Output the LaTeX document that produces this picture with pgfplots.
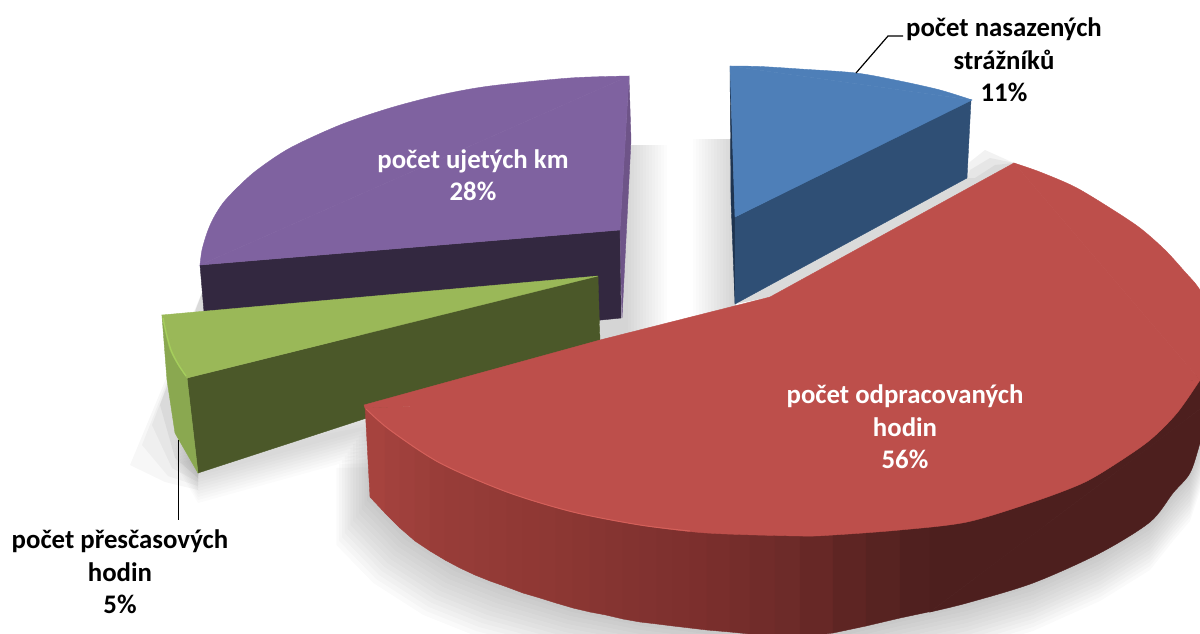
\documentclass[border=0pt]{standalone}
\usepackage{fontspec}
\setmainfont{Carlito}
\usepackage{pgfplots}
\usepackage{pgfplotstable}
\pgfplotsset{compat=1.18}
\definecolor{bluetop}{RGB}{78,127,184}
\definecolor{blueside}{RGB}{47,79,117}
\definecolor{bluerim}{RGB}{30,52,80}
\definecolor{purptop}{RGB}{127,98,160}
\definecolor{purpside}{RGB}{51,40,64}
\definecolor{purprim}{RGB}{110,84,136}
\definecolor{greentop}{RGB}{154,184,88}
\definecolor{greenside}{RGB}{75,88,41}
\definecolor{greenrim}{RGB}{138,168,80}
\definecolor{greenedge}{RGB}{165,207,92}
\definecolor{redtop}{RGB}{189,79,75}
\definecolor{rededge}{RGB}{212,96,90}
\definecolor{reddark}{RGB}{77,31,30}

% outer wall of the big slice: upper edge, then lower edge
\pgfplotstableread{
x y
365 405
385 423
400 435
415 445
430 454
445 462
460 469
475 475
490 482
507 489
523 494
540 499
556 504
573 509
590 513
606 516
623 519
640 522
657 525
673 527
690 529
707 530
730 531
750 532
775 533
800 533
833 532
866 530
900 527
933 523
370 497
385 513
400 528
415 541
430 551
445 560
460 568
475 575
490 581
507 587
523 593
540 598
556 603
573 608
590 612
606 615
623 619
640 622
657 624
673 626
690 628
707 630
730 632
750 634
775 636
800 637
833 633
866 626
900 618
933 611
}\redwall

% dx marks the points whose shadow also falls to the left
\pgfplotstableread{
x y dx
370 497 1
407 535 1
457 567 1
507 587 1
573 608 0.5
640 622 0
707 630 0
760 636 0
800 637 0
850 630 0
900 618 0
967 603 0
1033 583 0
1100 553 0
1150 522 0
1173 493 0
1190 473 0
1200 443 0
1200 400 0
370 420 1
}\redshadow

\pgfplotstableread{
x y
198 473
400 417
400 390
175 433
}\greenshadow

\newcommand\poly[2]{\addplot[draw=#1,line width=0.4pt,fill=#1] coordinates {#2} -- cycle;}
\newcommand\arcfill[2]{\addplot[smooth,draw=#1,line width=0.4pt,fill=#1] coordinates {#2} -- cycle;}

\begin{document}
\begin{tikzpicture}
\begin{axis}[
  name=ax,
  width=1200pt,height=633pt,scale only axis,
  xmin=0,xmax=1200,ymin=0,ymax=633,
  y dir=reverse,
  hide axis,
  clip=true,
  colormap={redwall}{rgb255(365)=(168,68,63) rgb255(440)=(152,61,57) rgb255(540)=(143,56,52)
    rgb255(640)=(130,50,48) rgb255(700)=(124,47,45) rgb255(800)=(107,42,40)
    rgb255(850)=(94,37,35) rgb255(933)=(77,31,30)},
  point meta min=365,point meta max=933,
]
% floor shadows
\pgfplotsinvokeforeach{628,631,634,637,640,643,646,649,652,655,658,661,664,667}{
  \addplot[draw=none,fill=black,fill opacity=0.012] coordinates {(600,145) (#1,145) (#1,345) (600,345)};
}
\addplot[draw=none,fill=black,fill opacity=0.03] coordinates {(205,285) (130,465) (165,482) (198,490)};
\addplot[draw=none,fill=black,fill opacity=0.03] coordinates {(205,285) (142,445) (168,476) (198,486)};
\addplot[draw=none,fill=black,fill opacity=0.04] coordinates {(205,285) (152,425) (172,468) (198,482)};
\addplot[draw=none,fill=black,fill opacity=0.05] coordinates {(205,285) (160,405) (175,458) (198,478)};
\pgfplotsinvokeforeach{3,6,9,12,15,18,21,24,27,30}{
  \addplot[draw=none,fill=black,fill opacity=0.016] table[x=x,y expr=\thisrow{y}+#1]{\greenshadow};
}
\pgfplotsinvokeforeach{693,696,699,702,705,708,711,714,717,720,723,726,729,732}{
  \addplot[draw=none,fill=black,fill opacity=0.012] coordinates {(#1,139) (736,139) (736,335) (#1,335)};
}
\addplot[draw=none,fill=black,fill opacity=0.05] coordinates {(735,304) (967,178) (966,165) (985,150) (1014,163) (770,297)};
\addplot[draw=none,fill=black,fill opacity=0.05] coordinates {(735,304) (967,178) (970,170) (990,158) (1014,163) (770,297)};
\addplot[draw=none,fill=black,fill opacity=0.05] coordinates {(735,304) (967,178) (975,178) (995,165) (1014,163) (770,297)};

% purple slice
\poly{purpside}{(200,265) (620,230) (621,318) (400,340) (204,312)}
\poly{purprim}{(629,76) (631,140) (622,318) (620,230)}
\arcfill{purptop}{(629,76) (570,78) (490,86) (440,95) (390,108) (340,125) (290,148) (257,170) (238,187) (223,203) (213,219) (207,233) (202,250) (200,265)}
\poly{purptop}{(629,76) (200,265) (620,230)}

% green slice
\poly{greenside}{(187,378) (598,276) (600,342) (198,473)}
\poly{greenrim}{(162,316) (187,378) (198,473) (175,433) (167,380)}
\arcfill{greentop}{(162,315) (165,330) (170,350) (178,365) (187,378)}
\poly{greentop}{(162,315) (598,276) (187,378)}
\addplot[smooth,color=greenedge,line width=1.3pt] coordinates {(163,318) (166,332) (171,350) (178,364) (186,376)};

% blue slice
\poly{bluerim}{(730,66) (735,217) (735,304) (731,200)}
\poly{blueside}{(735,217) (971,100) (967,178) (735,304)}
\arcfill{bluetop}{(730,66) (760,66.5) (800,69) (856,73) (900,81) (940,90) (972,100)}
\poly{bluetop}{(730,66) (972,100) (735,217)}

% red slice
\pgfplotsinvokeforeach{4,8,12,16,20,24,28,32,36,40,44,48}{
  \addplot[draw=none,fill=black,fill opacity=0.018] table[x expr=\thisrow{x}-#1*0.7*\thisrow{dx},y expr=\thisrow{y}+#1]{\redshadow};
}
\addplot[surf,shader=flat mean,mesh/rows=2,point meta=x] table[x=x,y=y]{\redwall};
\arcfill{reddark}{(930,612) (967,603) (1033,583) (1100,553) (1150,522) (1173,493) (1190,473) (1200,443) (1212,400)}
\poly{reddark}{(930,515) (1133,445) (1200,370) (1212,400) (930,612)}
\arcfill{redtop}{(1014,163) (1040,172) (1075,187) (1110,208) (1140,228) (1165,250) (1185,272) (1200,290) (1222,330) (1222,350) (1200,380)}
\arcfill{redtop}{(1200,380) (1177,413) (1150,440) (1117,463) (1083,483) (1033,502) (967,522) (900,530) (833,535) (800,536) (707,533) (640,525) (573,512) (507,492) (440,463) (390,430) (365,408)}
\poly{redtop}{(1014,163) (1200,380) (365,408) (364,405) (600,340) (770,297)}
\poly{redtop}{(410,395) (1190,365) (1190,395) (410,425)}
\addplot[smooth,color=rededge,line width=1pt] coordinates {(366,409) (390,430) (440,463) (507,492) (573,512) (640,525) (690,531)};

% leader lines
\addplot[color=black,line width=1.2pt] coordinates {(856,73) (888,36) (903,36)};
\addplot[color=black,line width=1.2pt] coordinates {(178.5,440) (178.5,520)};

% labels
\begin{scope}[every node/.style={align=center,font=\fontsize{26.8}{32.4}\selectfont\bfseries}]
\node[black] at (axis cs:1004,60) {počet nasazených\\strážníků\\11\%};
\node[white] at (axis cs:473,175) {počet ujetých km\\28\%};
\node[white] at (axis cs:905,427) {počet odpracovaných\\hodin\\56\%};
\node[black] at (axis cs:120,572) {počet přesčasových\\hodin\\5\%};
\end{scope}
\end{axis}
\pgfresetboundingbox
\path (ax.south west) rectangle (ax.north east);
\end{tikzpicture}
\end{document}
